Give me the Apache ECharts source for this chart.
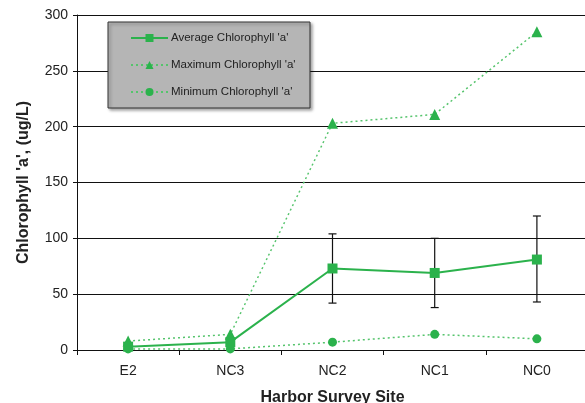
<!DOCTYPE html>
<html>
<head>
<meta charset="utf-8">
<script src="https://cdn.jsdelivr.net/npm/echarts@6/dist/echarts.min.js"></script>
<style>
html,body{margin:0;padding:0;background:#fff;}
#chart{width:585px;height:403px;}
</style>
</head>
<body>
<div id="chart"></div>
<script>
// Harbor survey sites along the x axis
const sites = ['E2', 'NC3', 'NC2', 'NC1', 'NC0'];
// Chlorophyll 'a' concentrations (ug/L)
const avgChl = [3, 7, 73, 69, 81];
const maxChl = [8, 14, 203, 211, 285];
const minChl = [1, 1, 7, 14, 10];
// Error bar extents around the averages
const errLow = [null, null, 42, 38, 43];
const errHigh = [null, null, 104, 100, 120];
// Y axis ticks
const yTicks = { min: 0, max: 300, step: 50 };

const green = '#2bb24c';
const greenLight = '#55c46c';
const font = 'Liberation Sans, Arial, sans-serif';

const errData = sites.map((s, i) => [i, errLow[i], errHigh[i]]).filter(d => d[1] != null);

const chart = echarts.init(document.getElementById('chart'));
chart.setOption({
  animation: false,
  backgroundColor: '#fff',
  grid: { left: 77, top: 15, width: 511, height: 335, containLabel: false, outerBoundsMode: 'none' },
  graphic: [{
    type: 'rect',
    shape: { x: 108, y: 22, width: 202, height: 86 },
    style: { fill: '#b5b5b5', stroke: '#333', lineWidth: 1, shadowBlur: 3, shadowOffsetX: 2, shadowOffsetY: 2, shadowColor: 'rgba(0,0,0,0.35)' },
    z: 10
  }],
  legend: {
    orient: 'vertical',
    left: 125,
    top: 27,
    itemWidth: 37,
    itemHeight: 10,
    itemGap: 15,
    z: 20,
    textStyle: { fontFamily: font, fontSize: 11.5, color: '#222', padding: [0, 0, 0, -2] },
    data: [
      { name: "Average Chlorophyll 'a'" },
      { name: "Maximum Chlorophyll 'a'" },
      { name: "Minimum Chlorophyll 'a'" }
    ]
  },
  xAxis: {
    type: 'category',
    data: sites,
    boundaryGap: true,
    name: 'Harbor Survey Site',
    nameLocation: 'middle',
    nameGap: 40,
    nameTextStyle: { fontFamily: font, fontSize: 16, fontWeight: 'bold', color: '#222' },
    axisLine: { lineStyle: { color: '#111', width: 1 } },
    axisTick: { show: true, length: 5, lineStyle: { color: '#111' } },
    axisLabel: { fontFamily: font, fontSize: 14, color: '#222', margin: 14 }
  },
  yAxis: {
    type: 'value',
    min: yTicks.min,
    max: yTicks.max,
    interval: yTicks.step,
    name: "Chlorophyll 'a', (ug/L)",
    nameLocation: 'middle',
    nameGap: 45,
    nameTextStyle: { fontFamily: font, fontSize: 16, fontWeight: 'bold', color: '#222' },
    axisLine: { show: true, lineStyle: { color: '#111', width: 1 } },
    axisTick: { show: true, length: 4, lineStyle: { color: '#111' } },
    axisLabel: { fontFamily: font, fontSize: 14, color: '#222', margin: 9 },
    splitLine: { show: true, lineStyle: { color: '#111', width: 1 } }
  },
  series: [
    {
      name: 'errors',
      type: 'custom',
      data: errData,
      z: 3,
      renderItem: function (params, api) {
        const x = api.value(0);
        const lo = api.coord([x, api.value(1)]);
        const hi = api.coord([x, api.value(2)]);
        const cap = 4;
        const st = { stroke: '#111', lineWidth: 1.2 };
        return {
          type: 'group',
          children: [
            { type: 'line', shape: { x1: lo[0], y1: lo[1], x2: hi[0], y2: hi[1] }, style: st },
            { type: 'line', shape: { x1: lo[0] - cap, y1: lo[1], x2: lo[0] + cap, y2: lo[1] }, style: st },
            { type: 'line', shape: { x1: hi[0] - cap, y1: hi[1], x2: hi[0] + cap, y2: hi[1] }, style: st }
          ]
        };
      }
    },
    {
      name: "Average Chlorophyll 'a'",
      type: 'line',
      data: avgChl,
      symbol: 'rect',
      symbolSize: 10,
      z: 5,
      itemStyle: { color: green },
      lineStyle: { color: green, width: 2 }
    },
    {
      name: "Maximum Chlorophyll 'a'",
      type: 'line',
      data: maxChl,
      symbol: 'triangle',
      symbolSize: 11,
      z: 4,
      itemStyle: { color: green },
      lineStyle: { color: greenLight, width: 1.5, type: [2, 3] }
    },
    {
      name: "Minimum Chlorophyll 'a'",
      type: 'line',
      data: minChl,
      symbol: 'circle',
      symbolSize: 9,
      z: 4,
      itemStyle: { color: green },
      lineStyle: { color: greenLight, width: 1.5, type: [2, 3] }
    }
  ]
});
</script>
</body>
</html>
